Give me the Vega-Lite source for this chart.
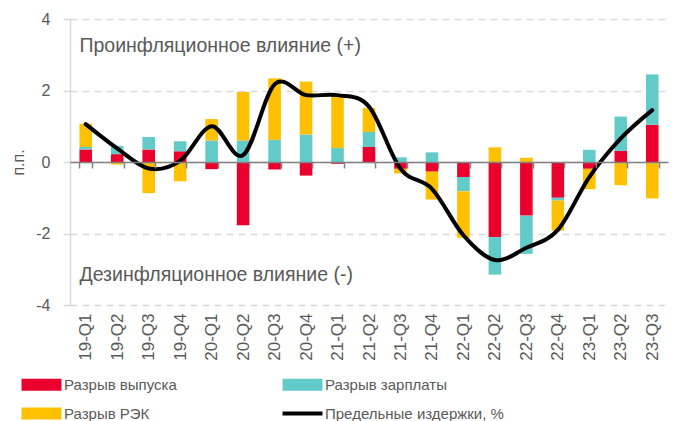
{
  "$schema": "https://vega.github.io/schema/vega-lite/v6.json",
  "width": 598,
  "height": 286,
  "autosize": "none",
  "padding": {"left": 70, "top": 19, "right": 10, "bottom": 116},
  "background": "white",
  "config": {
    "font": "Liberation Sans",
    "view": {"stroke": null}
  },
  "datasets": {
    "bars": [
      {"q": "19-Q1", "series": "Разрыв выпуска", "ord": 1, "value": 0.35},
      {"q": "19-Q1", "series": "Разрыв зарплаты", "ord": 2, "value": 0.07},
      {"q": "19-Q1", "series": "Разрыв РЭК", "ord": 3, "value": 0.65},
      {"q": "19-Q2", "series": "Разрыв выпуска", "ord": 1, "value": 0.22},
      {"q": "19-Q2", "series": "Разрыв зарплаты", "ord": 2, "value": 0.23},
      {"q": "19-Q2", "series": "Разрыв РЭК", "ord": 3, "value": -0.07},
      {"q": "19-Q3", "series": "Разрыв выпуска", "ord": 1, "value": 0.35},
      {"q": "19-Q3", "series": "Разрыв зарплаты", "ord": 2, "value": 0.35},
      {"q": "19-Q3", "series": "Разрыв РЭК", "ord": 3, "value": -0.87},
      {"q": "19-Q4", "series": "Разрыв выпуска", "ord": 1, "value": 0.3},
      {"q": "19-Q4", "series": "Разрыв зарплаты", "ord": 2, "value": 0.28},
      {"q": "19-Q4", "series": "Разрыв РЭК", "ord": 3, "value": -0.54},
      {"q": "20-Q1", "series": "Разрыв выпуска", "ord": 1, "value": -0.2},
      {"q": "20-Q1", "series": "Разрыв зарплаты", "ord": 2, "value": 0.6},
      {"q": "20-Q1", "series": "Разрыв РЭК", "ord": 3, "value": 0.6},
      {"q": "20-Q2", "series": "Разрыв выпуска", "ord": 1, "value": -1.77},
      {"q": "20-Q2", "series": "Разрыв зарплаты", "ord": 2, "value": 0.6},
      {"q": "20-Q2", "series": "Разрыв РЭК", "ord": 3, "value": 1.36},
      {"q": "20-Q3", "series": "Разрыв выпуска", "ord": 1, "value": -0.21},
      {"q": "20-Q3", "series": "Разрыв зарплаты", "ord": 2, "value": 0.62},
      {"q": "20-Q3", "series": "Разрыв РЭК", "ord": 3, "value": 1.72},
      {"q": "20-Q4", "series": "Разрыв выпуска", "ord": 1, "value": -0.38},
      {"q": "20-Q4", "series": "Разрыв зарплаты", "ord": 2, "value": 0.77},
      {"q": "20-Q4", "series": "Разрыв РЭК", "ord": 3, "value": 1.48},
      {"q": "21-Q1", "series": "Разрыв выпуска", "ord": 1, "value": -0.05},
      {"q": "21-Q1", "series": "Разрыв зарплаты", "ord": 2, "value": 0.39},
      {"q": "21-Q1", "series": "Разрыв РЭК", "ord": 3, "value": 1.5},
      {"q": "21-Q2", "series": "Разрыв выпуска", "ord": 1, "value": 0.42},
      {"q": "21-Q2", "series": "Разрыв зарплаты", "ord": 2, "value": 0.42},
      {"q": "21-Q2", "series": "Разрыв РЭК", "ord": 3, "value": 0.67},
      {"q": "21-Q3", "series": "Разрыв выпуска", "ord": 1, "value": -0.19},
      {"q": "21-Q3", "series": "Разрыв зарплаты", "ord": 2, "value": 0.13},
      {"q": "21-Q3", "series": "Разрыв РЭК", "ord": 3, "value": -0.13},
      {"q": "21-Q4", "series": "Разрыв выпуска", "ord": 1, "value": -0.27},
      {"q": "21-Q4", "series": "Разрыв зарплаты", "ord": 2, "value": 0.27},
      {"q": "21-Q4", "series": "Разрыв РЭК", "ord": 3, "value": -0.78},
      {"q": "22-Q1", "series": "Разрыв выпуска", "ord": 1, "value": -0.42},
      {"q": "22-Q1", "series": "Разрыв зарплаты", "ord": 2, "value": -0.4},
      {"q": "22-Q1", "series": "Разрыв РЭК", "ord": 3, "value": -1.3},
      {"q": "22-Q2", "series": "Разрыв выпуска", "ord": 1, "value": -2.1},
      {"q": "22-Q2", "series": "Разрыв зарплаты", "ord": 2, "value": -1.05},
      {"q": "22-Q2", "series": "Разрыв РЭК", "ord": 3, "value": 0.41},
      {"q": "22-Q3", "series": "Разрыв выпуска", "ord": 1, "value": -1.5},
      {"q": "22-Q3", "series": "Разрыв зарплаты", "ord": 2, "value": -1.07},
      {"q": "22-Q3", "series": "Разрыв РЭК", "ord": 3, "value": 0.12},
      {"q": "22-Q4", "series": "Разрыв выпуска", "ord": 1, "value": -1.0},
      {"q": "22-Q4", "series": "Разрыв зарплаты", "ord": 2, "value": -0.08},
      {"q": "22-Q4", "series": "Разрыв РЭК", "ord": 3, "value": -0.84},
      {"q": "23-Q1", "series": "Разрыв выпуска", "ord": 1, "value": -0.19},
      {"q": "23-Q1", "series": "Разрыв зарплаты", "ord": 2, "value": 0.34},
      {"q": "23-Q1", "series": "Разрыв РЭК", "ord": 3, "value": -0.57},
      {"q": "23-Q2", "series": "Разрыв выпуска", "ord": 1, "value": 0.31},
      {"q": "23-Q2", "series": "Разрыв зарплаты", "ord": 2, "value": 0.96},
      {"q": "23-Q2", "series": "Разрыв РЭК", "ord": 3, "value": -0.65},
      {"q": "23-Q3", "series": "Разрыв выпуска", "ord": 1, "value": 1.04},
      {"q": "23-Q3", "series": "Разрыв зарплаты", "ord": 2, "value": 1.41},
      {"q": "23-Q3", "series": "Разрыв РЭК", "ord": 3, "value": -1.02}
    ],
    "line": [
      {"q": "19-Q1", "cost": 1.06},
      {"q": "19-Q2", "cost": 0.38},
      {"q": "19-Q3", "cost": -0.18},
      {"q": "19-Q4", "cost": 0.03},
      {"q": "20-Q1", "cost": 1.0},
      {"q": "20-Q2", "cost": 0.19},
      {"q": "20-Q3", "cost": 2.17},
      {"q": "20-Q4", "cost": 1.87},
      {"q": "21-Q1", "cost": 1.87},
      {"q": "21-Q2", "cost": 1.55},
      {"q": "21-Q3", "cost": -0.19},
      {"q": "21-Q4", "cost": -0.75},
      {"q": "22-Q1", "cost": -2.05},
      {"q": "22-Q2", "cost": -2.74},
      {"q": "22-Q3", "cost": -2.4},
      {"q": "22-Q4", "cost": -1.9},
      {"q": "23-Q1", "cost": -0.42},
      {"q": "23-Q2", "cost": 0.66},
      {"q": "23-Q3", "cost": 1.45}
    ],
    "notes": [
      {"q": "19-Q1", "y": 3.24, "text": "Проинфляционное влияние (+)"},
      {"q": "19-Q1", "y": -3.17, "text": "Дезинфляционное влияние (-)"}
    ]
  },
  "layer": [
    {
      "data": {"name": "bars"},
      "mark": {"type": "bar"},
      "encoding": {
        "x": {
          "field": "q", "type": "ordinal", "sort": null,
          "scale": {"paddingInner": 0.6, "paddingOuter": 0.3},
          "axis": {
            "title": null,
            "orient": "bottom",
            "offset": -143,
            "domainColor": "#808080",
            "domainWidth": 1.5,
            "tickColor": "#808080",
            "tickWidth": 1.5,
            "tickSize": 6,
            "tickBand": "extent",
            "labelAngle": -90,
            "labelAlign": "right",
            "labelBaseline": "middle",
            "labelPadding": 145,
            "labelFontSize": 17,
            "labelColor": "#595959",
            "grid": false,
            "zindex": 1
          }
        },
        "y": {
          "field": "value", "type": "quantitative", "stack": "zero",
          "scale": {"domain": [-4, 4], "nice": false},
          "axis": {
            "values": [-4, -2, 0, 2, 4],
            "labelExpr": "replace(datum.label, '−', '-')",
            "title": "п.п.",
            "titleFontSize": 16,
            "titleFontWeight": "normal",
            "titleColor": "#595959",
            "titleX": -52,
            "titleY": 143,
            "titleBaseline": "middle",
            "titleAlign": "center",
            "titleAngle": -90,
            "labelFontSize": 16,
            "labelColor": "#595959",
            "labelPadding": 13,
            "domainColor": "#D9D9D9",
            "domainWidth": 1.5,
            "tickColor": "#D9D9D9",
            "tickSize": 7,
            "tickWidth": 1.5,
            "gridColor": "#D9D9D9",
            "gridDash": [7, 5],
            "gridWidth": 1.5
          }
        },
        "color": {
          "field": "series", "type": "nominal",
          "scale": {
            "domain": ["Разрыв выпуска", "Разрыв зарплаты", "Разрыв РЭК", "Предельные издержки, %"],
            "range": ["#EB002D", "#62CBC9", "#FFC000", "#000000"]
          },
          "legend": {
            "title": null,
            "orient": "none",
            "legendX": -36,
            "legendY": 358,
            "direction": "horizontal",
            "columns": 2,
            "columnPadding": 105,
            "rowPadding": 13,
            "labelFontSize": 15,
            "labelColor": "#595959",
            "labelOffset": 15,
            "symbolSize": 144,
            "symbolType": "M-3.33,-1H3.33V1H-3.33Z",
            "symbolStrokeWidth": 0,
            "labelLimit": 300,
            "encode": {
              "symbols": {
                "update": {
                  "shape": {"signal": "datum.value === 'Предельные издержки, %' ? 'M-3.33,-0.33H3.33V0.33H-3.33Z' : 'M-3.33,-1H3.33V1H-3.33Z'"},
                  "fill": {"signal": "scale('color', datum.value)"},
                  "strokeWidth": {"value": 0}
                }
              }
            }
          }
        },
        "order": {"field": "ord", "type": "quantitative"}
      }
    },
    {
      "data": {"name": "line"},
      "mark": {"type": "line", "interpolate": "cardinal", "strokeWidth": 4, "strokeCap": "round"},
      "encoding": {
        "x": {"field": "q", "type": "ordinal", "sort": null},
        "y": {"field": "cost", "type": "quantitative"},
        "color": {"datum": "Предельные издержки, %"}
      }
    },
    {
      "data": {"name": "notes"},
      "mark": {"type": "text", "align": "left", "baseline": "middle", "fontSize": 19.5, "color": "#595959", "dx": 0},
      "encoding": {
        "x": {"field": "q", "type": "ordinal", "sort": null, "bandPosition": 0},
        "y": {"field": "y", "type": "quantitative"},
        "text": {"field": "text"}
      }
    }
  ]
}
